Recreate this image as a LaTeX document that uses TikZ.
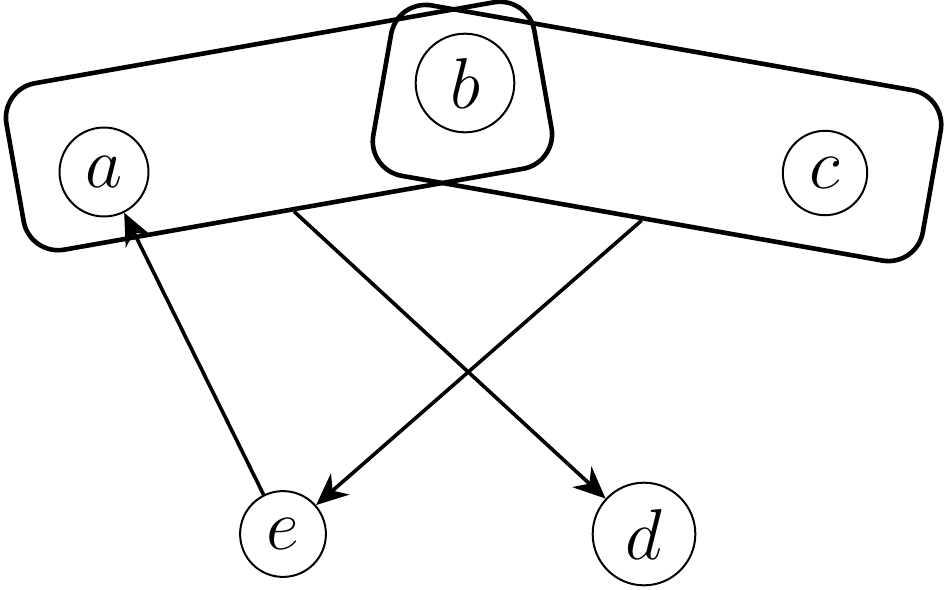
\RequirePackage{fix-cm}
\documentclass[tikz,border=0pt]{standalone}
\usetikzlibrary{arrows.meta}
\begin{document}
\begin{tikzpicture}[x=1pt,y=1pt,
  vertex/.style={circle,draw,line width=2pt,inner sep=14.5pt,font=\fontsize{72}{86}\selectfont},
  hedge/.style={draw,line width=4.6pt,rounded corners=35pt,inner sep=0pt},
  link/.style={line width=3.6pt,-{Stealth[length=32pt,width=28pt,inset=10pt]}}]
\useasboundingbox (0,0) rectangle (945,-589);
\node[hedge,rotate=10,minimum width=536pt,minimum height=169pt] (ab) at (279,-126) {};
\node[hedge,rotate=-10,minimum width=558pt,minimum height=173pt] (bc) at (657,-133) {};
\node[vertex] (a) at (104,-172) {$a$};
\node[vertex] (b) at (465,-83) {$b$};
\node[vertex] (c) at (825,-173) {$c$};
\node[vertex] (e) at (283,-534) {$e$};
\node[vertex] (d) at (644,-534) {$d$};
\draw[link] (e) -- (a);
\draw[link] (ab.south) -- (d);
\draw[link] (bc.south) -- (e);
\end{tikzpicture}
\end{document}
